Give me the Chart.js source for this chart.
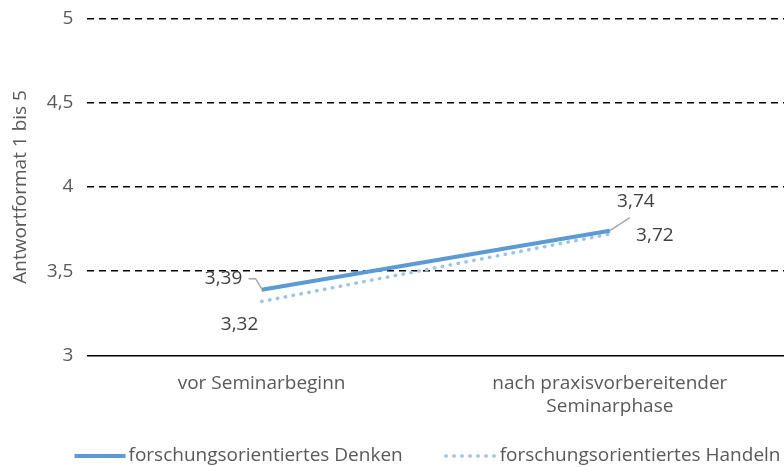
<!DOCTYPE html>
<html>
<head>
<meta charset="utf-8">
<script src="https://cdn.jsdelivr.net/npm/chart.js@4/dist/chart.umd.min.js"></script>
<style>
  html, body { margin:0; padding:0; background:#fff; }
  #wrap { width:784px; height:467px; position:relative; }
</style>
</head>
<body>
<div id="wrap"><canvas id="c"></canvas></div>
<script>
// ========= DATA =========
const categories = [['vor Seminarbeginn'], ['nach praxisvorbereitender', 'Seminarphase']];
const seriesNames = ['forschungsorientiertes Denken', 'forschungsorientiertes Handeln'];
const denken  = [3.39, 3.74];
const handeln = [3.32, 3.72];
const yTicks  = [3, 3.5, 4, 4.5, 5];

const FONT = '"Open Sans", "Noto Sans", sans-serif';
const FS = 19;
const TXT = '#595959';
const fmt = v => String(v).replace('.', ',');

// label offsets relative to each point: [dx, dy, leader?]
const labelPos = [
    [[-38, -11, 'L'], [26, -29, 'D']],
    [[-22, 23, null], [45, 2, null]]
];

// ========= DATA LABELS =========
const labelsPlugin = {
    id: 'pointLabels',
    afterDatasetsDraw(chart){
        const ctx = chart.ctx;
        ctx.save();
        ctx.font = FS + 'px ' + FONT;
        ctx.fillStyle = '#404040';
        ctx.textAlign = 'center';
        ctx.textBaseline = 'middle';
        chart.data.datasets.forEach((ds, di) => {
            const meta = chart.getDatasetMeta(di);
            meta.data.forEach((pt, i) => {
                const [dx, dy, lead] = labelPos[di][i];
                const lx = pt.x + dx, ly = pt.y + dy;
                ctx.fillText(fmt(ds.data[i]), lx, ly);
                if(lead){
                    ctx.strokeStyle = '#A6A6A6';
                    ctx.lineWidth = 1.5;
                    ctx.beginPath();
                    if(lead === 'L'){
                        ctx.moveTo(lx + 25, ly);
                        ctx.lineTo(lx + 32, ly);
                        ctx.lineTo(pt.x, pt.y - 1);
                    } else {
                        ctx.moveTo(pt.x, pt.y);
                        ctx.lineTo(pt.x + 20, pt.y - 13);
                    }
                    ctx.stroke();
                }
            });
        });
        ctx.restore();
    }
};

// ========= LEGEND (drawn under the axis) =========
const legendPlugin = {
    id: 'lineLegend',
    afterDraw(chart){
        const ctx = chart.ctx;
        const sample = 52, gap = 3, spacing = 42, y = 456;
        ctx.save();
        ctx.font = FS + 'px ' + FONT;
        ctx.textBaseline = 'middle';
        const items = chart.data.datasets.map(ds => ({ ds, w: sample + gap + ctx.measureText(ds.label).width }));
        const total = items.reduce((a, it) => a + it.w, 0) + spacing * (items.length - 1);
        let x = 427 - total / 2;
        items.forEach(({ ds, w }) => {
            ctx.strokeStyle = ds.borderColor;
            ctx.lineWidth = ds.borderWidth;
            ctx.lineCap = ds.borderCapStyle || 'butt';
            ctx.setLineDash(ds.borderDash || []);
            ctx.beginPath();
            ctx.moveTo(x + 1, y);
            ctx.lineTo(x + sample, y);
            ctx.stroke();
            ctx.setLineDash([]);
            ctx.fillStyle = TXT;
            ctx.fillText(ds.label, x + sample + gap, y);
            x += w + spacing;
        });
        ctx.restore();
    }
};

// ========= CHART =========
new Chart(document.getElementById('c'), {
    type: 'line',
    data: {
        labels: categories,
        datasets: [{
            label: seriesNames[0],
            data: denken,
            borderColor: '#5B9BD5',
            backgroundColor: '#5B9BD5',
            borderWidth: 4,
            pointRadius: 0,
            tension: 0
        },{
            label: seriesNames[1],
            data: handeln,
            borderColor: '#9DC3E6',
            backgroundColor: '#9DC3E6',
            borderWidth: 3.5,
            borderDash: [0.5, 7.5],
            borderCapStyle: 'round',
            pointRadius: 0,
            tension: 0
        }]
    },
    options: {
        responsive: true,
        maintainAspectRatio: false,
        animation: false,
        layout: { padding: { left: 9, right: 0, top: 0, bottom: 32 } },
        plugins: {
            tooltip: { enabled: false },
            legend: { display: false }
        },
        scales: {
            x: {
                offset: true,
                grid: { display: false, drawTicks: false },
                border: { display: true, color: '#000', width: 1.5 },
                ticks: { color: TXT, font: { family: FONT, size: FS }, padding: 17 }
            },
            y: {
                min: 3, max: 5,
                afterBuildTicks(axis){ axis.ticks = yTicks.map(v => ({ value: v })); },
                grid: {
                    color: c => c.tick && c.tick.value === 3 ? 'rgba(0,0,0,0)' : '#000',
                    lineWidth: 1.5,
                    drawTicks: true,
                    tickLength: 7,
                    tickColor: 'rgba(0,0,0,0)'
                },
                border: { display: false, dash: [7, 5] },
                ticks: { color: TXT, font: { family: FONT, size: FS }, padding: 7, callback: v => fmt(v) },
                title: { display: true, text: 'Antwortformat 1 bis 5', color: TXT, font: { family: FONT, size: FS }, padding: { top: 0, bottom: 8 } }
            }
        }
    },
    plugins: [labelsPlugin, legendPlugin]
});
</script>
</body>
</html>
